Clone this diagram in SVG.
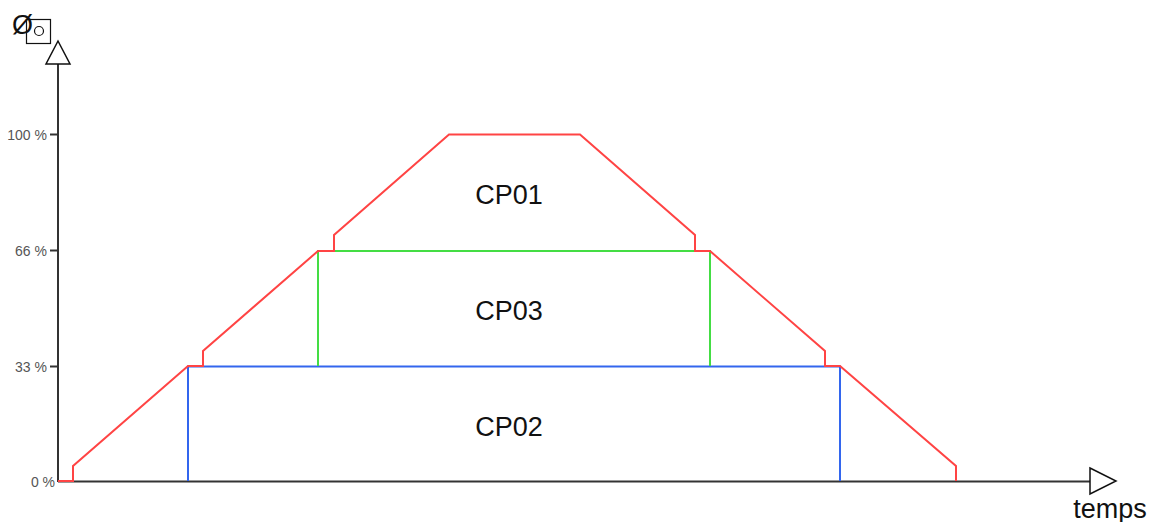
<svg xmlns="http://www.w3.org/2000/svg" width="1151" height="522" viewBox="0 0 1151 522">
<style>
.axis{stroke:#333;stroke-width:2;fill:none}
.head{stroke:#111;stroke-width:1.5;fill:#fff}
.tick{font-family:"Liberation Sans",Arial,sans-serif;font-size:14px;fill:#555;text-anchor:end}
.lbl{font-family:"Liberation Sans",Arial,sans-serif;font-size:27px;fill:#111;text-anchor:middle}
</style>
<rect width="1151" height="522" fill="#fff"/>
<g id="axes">
<line class="axis" x1="58" y1="482" x2="58" y2="63"/>
<polygon class="head" points="58,41 46,64 70,64"/>
<line class="axis" x1="58" y1="481.5" x2="1090" y2="481.5"/>
<polygon class="head" points="1090,468 1116,481 1090,494"/>
<line class="axis" x1="50" y1="134.5" x2="58" y2="134.5"/>
<line class="axis" x1="50" y1="250.5" x2="58" y2="250.5"/>
<line class="axis" x1="50" y1="366.5" x2="58" y2="366.5"/>
<text class="tick" x="47" y="139.5">100 %</text>
<text class="tick" x="47" y="255.5">66 %</text>
<text class="tick" x="47" y="371.5">33 %</text>
<text class="tick" x="55" y="487">0 %</text>
<text x="12" y="34" font-family="Liberation Sans,Arial,sans-serif" font-size="27" fill="#111">Ø</text>
<rect x="26.5" y="19.5" width="24" height="24" fill="none" stroke="#111" stroke-width="1.2"/>
<circle cx="39" cy="31" r="4.5" fill="none" stroke="#111" stroke-width="1.2"/>
<text class="lbl" x="1110" y="518">temps</text>
</g>
<g id="CP02">
<polyline points="188,481 188,366.5 840,366.5 840,481" fill="none" stroke="#3366ee" stroke-width="2"/>
<text class="lbl" x="509" y="436">CP02</text>
</g>
<g id="CP03">
<polyline points="318,366 318,251 710,251 710,366" fill="none" stroke="#44dd44" stroke-width="2"/>
<text class="lbl" x="509" y="320">CP03</text>
</g>
<g id="CP01">
<text class="lbl" x="509" y="204">CP01</text>
</g>
<g id="connectors">
<polyline points="58,481 73,481 73,466 188,366 203,366 203,351 318,251 334,251 334,235 449,134.5 580,134.5 695,235 695,251 710,251 825,351 825,366 840,366 956,466 956,481" fill="none" stroke="#ff4444" stroke-width="2" stroke-linejoin="miter"/>
</g>
</svg>
